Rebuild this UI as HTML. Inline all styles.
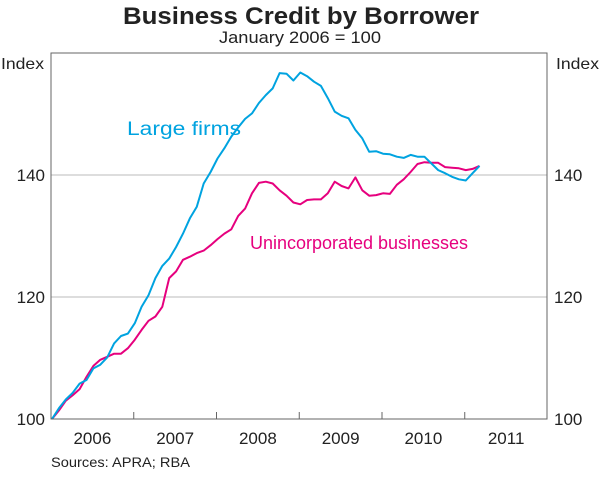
<!DOCTYPE html>
<html><head><meta charset="utf-8"><style>
body{margin:0;background:#fff;width:600px;height:472px;overflow:hidden;font-family:"Liberation Sans",Arial,sans-serif}
svg text{font-family:"Liberation Sans",Arial,sans-serif;fill:#222}
</style></head><body>
<svg id="chart" width="600" height="472" viewBox="0 0 600 472" xmlns="http://www.w3.org/2000/svg">
<text x="123" y="24" font-size="24" font-weight="bold" textLength="356" lengthAdjust="spacingAndGlyphs">Business Credit by Borrower</text>
<text x="219" y="43" font-size="17" textLength="162" lengthAdjust="spacingAndGlyphs">January 2006 = 100</text>
<text x="1" y="69" font-size="16" textLength="43" lengthAdjust="spacingAndGlyphs">Index</text>
<text x="556" y="69" font-size="16" textLength="43" lengthAdjust="spacingAndGlyphs">Index</text>
<g id="grid"></g>
<g id="series"></g>
<rect x="51" y="53" width="496" height="366" fill="none" stroke="#666" stroke-width="1"/>
<g id="axes"></g>
<text x="127" y="135" font-size="19" style="fill:#00a3e0" textLength="114" lengthAdjust="spacingAndGlyphs">Large firms</text>
<text x="250" y="249" font-size="18" style="fill:#e6007e" textLength="218" lengthAdjust="spacingAndGlyphs">Unincorporated businesses</text>
<text x="51" y="467" font-size="14" textLength="139" lengthAdjust="spacingAndGlyphs">Sources: APRA; RBA</text>
</svg>
<script>
const yTicks=[100,120,140];
const years=["2006","2007","2008","2009","2010","2011"];
const largeFirms=[100,101.75,103.2,104.3,105.8,106.4,108.3,108.9,110.1,112.4,113.6,114.0,115.7,118.4,120.3,123.1,125.1,126.3,128.2,130.4,132.9,134.8,138.6,140.5,142.7,144.4,146.3,147.8,149.2,150.1,151.8,153.1,154.2,156.7,156.6,155.5,156.8,156.2,155.3,154.6,152.6,150.4,149.7,149.3,147.4,146,143.8,143.9,143.5,143.4,143,142.8,143.3,143,143,141.9,140.8,140.3,139.7,139.3,139.1,140.3,141.5];
const unincorporated=[100,101.4,103,103.9,104.9,106.9,108.7,109.7,110.2,110.7,110.7,111.6,113,114.6,116.1,116.8,118.4,123.1,124.2,126.1,126.6,127.2,127.6,128.5,129.5,130.4,131.1,133.3,134.5,137,138.7,138.9,138.6,137.5,136.6,135.5,135.2,135.9,136,136,137,138.9,138.2,137.8,139.6,137.5,136.6,136.7,137,136.9,138.4,139.3,140.5,141.8,142.1,142,142,141.3,141.2,141.1,140.8,141,141.5];
const NS="http://www.w3.org/2000/svg";
const x0=51,yearW=82.75,mW=yearW/12;
function xm(i){return 52+i*mW;}
function y(v){return 419-(v-100)*6.1;}
const grid=document.getElementById('grid'),axes=document.getElementById('axes'),ser=document.getElementById('series');
yTicks.forEach(t=>{
 if(t>100){const l=document.createElementNS(NS,'line');
 
 
 l.setAttribute('x1',51);l.setAttribute('x2',547);l.setAttribute('y1',y(t));l.setAttribute('y2',y(t));l.setAttribute('stroke','#bbb');grid.appendChild(l);}
 [[45,'end','left'],[554,'start','right']].forEach(([xx,a,s])=>{const tx=document.createElementNS(NS,'text');
 
 
 tx.setAttribute('x',xx);tx.setAttribute('y',y(t)+6);tx.setAttribute('text-anchor',a);tx.setAttribute('font-size','17');tx.textContent=t;axes.appendChild(tx);});
});
years.forEach((yr,i)=>{
 const bx=x0+i*yearW;
 if(i>0){const l=document.createElementNS(NS,'line');
 
 
 l.setAttribute('x1',bx);l.setAttribute('x2',bx);l.setAttribute('y1',419);l.setAttribute('y2',412);l.setAttribute('stroke','#666');axes.appendChild(l);}
 const tx=document.createElementNS(NS,'text');
 
 
 tx.setAttribute('x',bx+yearW/2);tx.setAttribute('y',444);tx.setAttribute('text-anchor','middle');tx.setAttribute('font-size','17');tx.textContent=yr;axes.appendChild(tx);
});
function line(data,color,name){const p=document.createElementNS(NS,'polyline');
 
 
 p.setAttribute('points',data.map((v,i)=>xm(i).toFixed(1)+','+y(v).toFixed(1)).join(' '));
 p.setAttribute('fill','none');p.setAttribute('stroke',color);p.setAttribute('stroke-width','2');p.setAttribute('stroke-linejoin','round');ser.appendChild(p);}
line(unincorporated,'#e6007e','unincorporated-line');
line(largeFirms,'#00a3e0','large-firms-line');
</script>
</body></html>
